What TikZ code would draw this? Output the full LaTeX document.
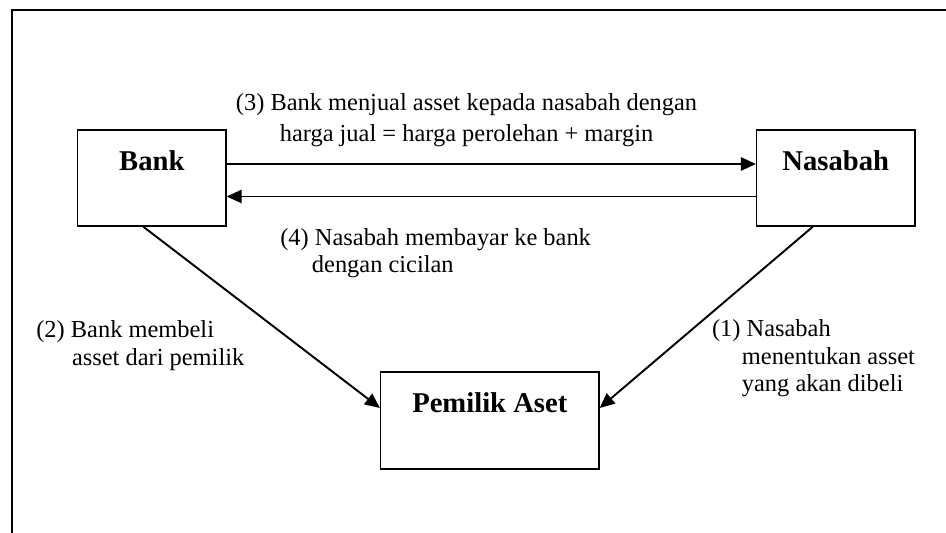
\documentclass[tikz,border=0pt]{standalone}
\usepackage{fontspec}
\setmainfont{Liberation Serif}
\usetikzlibrary{arrows.meta, positioning, calc}

\tikzset{
  party/.style={draw, line width=0.75pt, inner xsep=0pt, inner ysep=0pt,
    text height=22.8pt, text depth=31.9pt, font=\fontsize{16.3}{19}\selectfont\bfseries},
  flow/.style={line width=1.1pt, -{Triangle[length=8.5pt, width=7.5pt]}},
  note/.style={font=\fontsize{13.9}{15.6}\selectfont, align=left, inner sep=0pt, anchor=base west},
}

\begin{document}
\begin{tikzpicture}[x=0.02cm, y=-0.02cm]
\useasboundingbox (0,0) rectangle (946,533);
% frame (open to the right and bottom)
\draw[line width=1.2pt] (12,533) -- (12,10) -- (946,10);

% parties
\node[party, minimum width=2.97cm] (bank) at (151.8,178) {Bank};
\node[party, minimum width=3.17cm] (nasabah) at (835.8,178) {Nasabah};
\node[party, minimum width=4.37cm, text depth=32.4pt] (pemilik) at (489.8,420.5) {Pemilik Aset};

% flows
\draw[flow] ($(bank.east)+(0,-14)$) -- ($(nasabah.west)+(0,-14)$);
\draw[flow] ($(nasabah.west)+(0,18.5)$) -- ($(bank.east)+(0,18.5)$);
\draw[flow] ($(bank.south)+(-8.5,0)$) -- ($(pemilik.west)+(0,-12.5)$);
\draw[flow] ($(nasabah.south)+(-23,0)$) -- ($(pemilik.east)+(0,-12.5)$);

% step labels (placed by the baseline of their last line)
\node[note, align=center, anchor=base, font=\fontsize{13.9}{17.9}\selectfont] (jual) at (466.5,141.5)
  {(3) Bank menjual asset kepada nasabah dengan\\harga jual = harga perolehan + margin};
\node[note] (bayar) at (280,272.7) {(4) Nasabah membayar ke bank\\\hspace*{18pt}dengan cicilan};
\node[note] (beli) at (36,365) {(2) Bank membeli\\\hspace*{20.3pt}asset dari pemilik};
\node[note] (tentukan) at (711.7,391.7) {(1) Nasabah\\\hspace*{17pt}menentukan asset\\\hspace*{17pt}yang akan dibeli};
\end{tikzpicture}
\end{document}
